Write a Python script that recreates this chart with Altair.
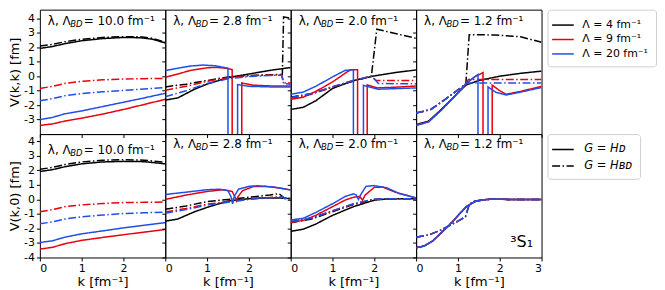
import altair as alt
import pandas as pd

LAMBDA_BD = [10.0, 2.8, 2.0, 1.2]
ROWS = ["kk", "k0"]
LAM_LABELS = ["Λ = 4 fm⁻¹", "Λ = 9 fm⁻¹", "Λ = 20 fm⁻¹"]
G_LABELS = ["G = Hᴅ", "G = Hʙᴅ"]
COLORS = ["#000000", "#e8000b", "#1f4fe8"]
Y_TITLES = ["V(k,k) [fm]", "V(k,0) [fm]"]

# ---------------- V(k,k), lambda_BD = 10.0 ----------------
KK10_L4_D = [(0, 1.92), (0.3, 2.05), (0.6, 2.25), (1.0, 2.45), (1.5, 2.6), (2.0, 2.68), (2.4, 2.66), (2.7, 2.55), (3.0, 2.3)]
KK10_L4_BD = [(0, 2.08), (0.3, 2.2), (0.6, 2.38), (1.0, 2.55), (1.5, 2.68), (2.0, 2.73), (2.4, 2.72), (2.7, 2.62), (3.0, 2.35)]
KK10_L9_D = [(0, -3.4), (0.3, -3.3), (0.6, -3.1), (1.0, -2.9), (1.5, -2.62), (2.0, -2.3), (2.5, -1.95), (3.0, -1.6)]
KK10_L9_BD = [(0, -0.85), (0.3, -0.7), (0.6, -0.5), (1.0, -0.35), (1.5, -0.25), (2.0, -0.2), (2.5, -0.17), (3.0, -0.15)]
KK10_L20_D = [(0, -3.0), (0.3, -2.85), (0.6, -2.6), (1.0, -2.4), (1.5, -2.1), (2.0, -1.8), (2.5, -1.5), (3.0, -1.18)]
KK10_L20_BD = [(0, -1.7), (0.3, -1.55), (0.6, -1.35), (1.0, -1.2), (1.5, -1.08), (2.0, -0.98), (2.5, -0.88), (3.0, -0.78)]

# ---------------- V(k,k), lambda_BD = 2.8 ----------------
KK28_L4_D = [(0, -1.65), (0.3, -1.5), (0.7, -0.9), (1.0, -0.55), (1.5, -0.1), (2.0, 0.15), (2.5, 0.4), (3.0, 0.6)]
KK28_L4_BD = [(0, -0.74), (0.5, -0.55), (1.0, -0.3), (1.5, -0.05), (2.0, 0.05), (2.5, 0.1), (2.8, 0.12), (2.83, 4.1), (3.0, 4.0)]
KK28_L9_D = [(0, -0.07), (0.3, 0.15), (0.6, 0.4), (1.0, 0.58), (1.2, 0.61), (1.4, 0.57), (1.6, 0.46), (1.6, -8), (1.83, -8), (1.83, -0.47), (2.1, -0.62), (2.5, -0.67), (3.0, -0.68)]
KK28_L9_BD = [(0, -0.97), (0.5, -0.7), (1.0, -0.35), (1.5, -0.1), (2.0, 0.02), (2.5, 0.08), (2.78, 0.1), (2.83, -0.35), (2.88, -0.5), (3.0, -0.45)]
KK28_L20_D = [(0, 0.39), (0.3, 0.55), (0.6, 0.7), (0.9, 0.77), (1.2, 0.72), (1.5, 0.55), (1.5, -8), (1.73, -8), (1.73, -0.58), (2.0, -0.7), (2.5, -0.74), (3.0, -0.75)]
KK28_L20_BD = [(0, -1.42), (0.5, -1.0), (1.0, -0.5), (1.5, -0.18), (2.0, -0.02), (2.5, 0.05), (2.78, 0.07), (2.83, -0.5), (3.0, -0.55)]

# ---------------- V(k,k), lambda_BD = 2.0 ----------------
KK20_L4_D = [(0, -2.3), (0.3, -2.15), (0.6, -1.7), (1.0, -0.85), (1.5, -0.3), (2.0, 0.02), (2.5, 0.25), (3.0, 0.43)]
KK20_L4_BD = [(0, -1.45), (0.5, -1.2), (1.0, -0.75), (1.5, -0.35), (1.93, 0.0), (2.06, 3.25), (2.5, 2.95), (3.0, 2.62)]
KK20_L9_D = [(0, -1.6), (0.3, -1.45), (0.6, -1.05), (1.0, -0.4), (1.35, 0.3), (1.45, 0.45), (1.6, 0.45), (1.6, -8), (1.83, -8), (1.83, -0.6), (2.07, -0.81), (2.5, -0.76), (3.0, -0.68)]
KK20_L9_BD = [(0, -1.55), (0.5, -1.25), (1.0, -0.75), (1.5, -0.3), (1.93, 0.0), (2.05, -0.3), (2.3, -0.3), (3.0, -0.29)]
KK20_L20_D = [(0, -1.25), (0.3, -1.1), (0.6, -0.7), (1.0, -0.05), (1.3, 0.4), (1.5, 0.45), (1.5, -8), (1.74, -8), (1.74, -0.63), (2.1, -0.9), (2.5, -0.86), (3.0, -0.81)]
KK20_L20_BD = [(0, -1.48), (0.5, -1.2), (1.0, -0.72), (1.5, -0.3), (1.93, 0.0), (2.1, -0.5), (2.5, -0.52), (3.0, -0.52)]

# ---------------- V(k,k), lambda_BD = 1.2 ----------------
KK12_L4_D = [(0, -3.35), (0.3, -3.1), (0.6, -2.3), (0.85, -1.6), (1.0, -1.15), (1.2, -0.6), (1.5, -0.3), (2.0, 0.0), (2.5, 0.2), (3.0, 0.35)]
KK12_L4_BD = [(0, -2.55), (0.35, -2.3), (0.72, -1.55), (1.0, -0.95), (1.19, -0.52), (1.27, 2.87), (1.9, 2.85), (2.5, 2.72), (3.0, 2.35)]
KK12_L9_D = [(0, -3.4), (0.3, -3.15), (0.6, -2.35), (0.85, -1.6), (1.0, -1.15), (1.2, -0.5), (1.4, -0.05), (1.6, 0.25), (1.6, -8), (1.82, -8), (1.82, -0.62), (2.0, -1.0), (2.15, -1.25), (2.5, -1.05), (3.0, -0.7)]
KK12_L9_BD = [(0, -2.55), (0.35, -2.3), (0.72, -1.55), (1.0, -0.95), (1.19, -0.52), (1.25, -0.22), (3.0, -0.22)]
KK12_L20_D = [(0, -3.4), (0.3, -3.15), (0.6, -2.35), (0.85, -1.6), (1.0, -1.15), (1.2, -0.5), (1.35, -0.15), (1.48, 0.12), (1.48, -8), (1.72, -8), (1.72, -0.74), (1.9, -1.1), (2.15, -1.3), (2.5, -1.1), (3.0, -0.78)]
KK12_L20_BD = [(0, -2.55), (0.35, -2.3), (0.72, -1.55), (1.0, -0.95), (1.19, -0.52), (1.23, -0.47), (3.0, -0.47)]

# ---------------- V(k,0), lambda_BD = 10.0 ----------------
K010_L4_D = [(0, 1.92), (0.3, 2.05), (0.6, 2.25), (1.0, 2.45), (1.5, 2.58), (2.0, 2.62), (2.5, 2.6), (3.0, 2.45)]
K010_L4_BD = [(0, 2.08), (0.3, 2.2), (0.6, 2.4), (1.0, 2.58), (1.5, 2.7), (2.0, 2.73), (2.5, 2.7), (3.0, 2.55)]
K010_L9_D = [(0, -3.42), (0.3, -3.3), (0.6, -3.05), (1.0, -2.82), (1.5, -2.62), (2.0, -2.43), (2.5, -2.25), (3.0, -2.07)]
K010_L9_BD = [(0, -0.85), (0.3, -0.7), (0.6, -0.5), (1.0, -0.38), (1.5, -0.28), (2.0, -0.22), (2.5, -0.2), (3.0, -0.18)]
K010_L20_D = [(0, -2.97), (0.3, -2.85), (0.6, -2.6), (1.0, -2.37), (1.5, -2.17), (2.0, -1.96), (2.5, -1.78), (3.0, -1.6)]
K010_L20_BD = [(0, -1.68), (0.3, -1.55), (0.6, -1.35), (1.0, -1.2), (1.5, -1.08), (2.0, -0.97), (2.5, -0.92), (3.0, -0.88)]

# ---------------- V(k,0), lambda_BD = 2.8 ----------------
K028_L4_D = [(0, -1.5), (0.3, -1.35), (0.7, -0.85), (1.0, -0.55), (1.5, -0.11), (2.0, 0.05), (2.3, 0.1), (2.7, 0.1), (3.0, 0.06)]
K028_L4_BD = [(0, -0.68), (0.5, -0.45), (1.0, -0.15), (1.5, 0.0), (2.0, 0.15), (2.5, 0.3), (2.72, 0.4), (2.85, 0.1), (3.0, 0.05)]
K028_L9_D = [(0, 0.0), (0.5, 0.3), (1.0, 0.55), (1.4, 0.67), (1.6, 0.55), (1.66, 0.2), (1.7, -0.1), (1.74, 0.2), (1.85, 0.6), (2.1, 0.88), (2.4, 0.9), (2.7, 0.8), (3.0, 0.65)]
K028_L9_BD = [(0, -0.87), (0.5, -0.62), (1.0, -0.33), (1.5, -0.15), (2.0, 0.02), (2.5, 0.14), (2.8, 0.2), (2.85, 0.07), (3.0, 0.05)]
K028_L20_D = [(0, 0.34), (0.5, 0.5), (1.0, 0.67), (1.3, 0.7), (1.5, 0.6), (1.57, 0.2), (1.61, -0.3), (1.65, 0.2), (1.75, 0.7), (2.0, 0.9), (2.2, 0.94), (2.6, 0.85), (3.0, 0.65)]
K028_L20_BD = [(0, -0.95), (0.5, -0.7), (1.0, -0.4), (1.5, -0.2), (2.0, 0.0), (2.5, 0.12), (2.8, 0.18), (2.85, 0.06), (3.0, 0.05)]

# ---------------- V(k,0), lambda_BD = 2.0 ----------------
K020_L4_D = [(0, -2.2), (0.3, -2.05), (0.6, -1.7), (1.0, -1.1), (1.5, -0.5), (2.0, -0.05), (2.3, 0.03), (3.0, 0.05)]
K020_L4_BD = [(0, -1.6), (0.5, -1.35), (1.0, -0.85), (1.5, -0.35), (2.0, 0.0), (2.3, 0.05), (3.0, 0.05)]
K020_L9_D = [(0, -1.58), (0.3, -1.45), (0.6, -1.1), (1.0, -0.5), (1.3, -0.05), (1.5, 0.15), (1.65, 0.2), (1.72, -0.05), (1.78, 0.3), (2.0, 0.83), (2.2, 0.85), (2.5, 0.5), (3.0, 0.1)]
K020_L9_BD = [(0, -1.55), (0.5, -1.3), (1.0, -0.8), (1.5, -0.32), (2.0, 0.0), (2.3, 0.05), (3.0, 0.05)]
K020_L20_D = [(0, -1.42), (0.3, -1.3), (0.6, -0.9), (1.0, -0.3), (1.3, 0.2), (1.5, 0.38), (1.57, 0.3), (1.62, 0.0), (1.67, 0.3), (1.8, 0.9), (2.0, 0.95), (2.3, 0.8), (2.6, 0.4), (3.0, 0.1)]
K020_L20_BD = [(0, -1.5), (0.5, -1.27), (1.0, -0.77), (1.5, -0.3), (2.0, 0.02), (2.3, 0.05), (3.0, 0.05)]

# ---------------- V(k,0), lambda_BD = 1.2 ----------------
K012_D = [(0, -3.33), (0.2, -3.2), (0.4, -2.85), (0.6, -2.3), (0.8, -1.75), (1.0, -1.12), (1.2, -0.5), (1.4, -0.15), (1.6, -0.03), (1.8, 0.02), (2.2, 0.0), (3.0, 0.0)]
K012_BD = [(0, -2.6), (0.3, -2.45), (0.6, -2.1), (0.8, -1.8), (1.0, -1.5), (1.18, -1.2), (1.27, -0.35), (1.4, -0.12), (1.6, -0.03), (1.8, 0.02), (2.2, 0.0), (3.0, 0.0)]

SERIES = {
    ("kk", 10.0): [KK10_L4_D, KK10_L4_BD, KK10_L9_D, KK10_L9_BD, KK10_L20_D, KK10_L20_BD],
    ("kk", 2.8): [KK28_L4_D, KK28_L4_BD, KK28_L9_D, KK28_L9_BD, KK28_L20_D, KK28_L20_BD],
    ("kk", 2.0): [KK20_L4_D, KK20_L4_BD, KK20_L9_D, KK20_L9_BD, KK20_L20_D, KK20_L20_BD],
    ("kk", 1.2): [KK12_L4_D, KK12_L4_BD, KK12_L9_D, KK12_L9_BD, KK12_L20_D, KK12_L20_BD],
    ("k0", 10.0): [K010_L4_D, K010_L4_BD, K010_L9_D, K010_L9_BD, K010_L20_D, K010_L20_BD],
    ("k0", 2.8): [K028_L4_D, K028_L4_BD, K028_L9_D, K028_L9_BD, K028_L20_D, K028_L20_BD],
    ("k0", 2.0): [K020_L4_D, K020_L4_BD, K020_L9_D, K020_L9_BD, K020_L20_D, K020_L20_BD],
    ("k0", 1.2): [K012_D, K012_BD, K012_D, K012_BD, K012_D, K012_BD],
}

recs = []
for (rowkey, lbd), lst in SERIES.items():
    for j, pts in enumerate(lst):
        lam = LAM_LABELS[j // 2]
        g = G_LABELS[j % 2]
        for i, (k, v) in enumerate(pts):
            recs.append({"row": rowkey, "lbd": lbd, "Lam": lam, "G": g, "k": k, "V": v, "i": i, "s": j})
df = pd.DataFrame(recs)

WIDTH = 126
HEIGHTS = [125, 124]
YDOM = [[-4, 4.6], [-4, 4.5]]
LABEL_Y = [[11, 11, 11, 11], [16.5, 10, 10, 10]]

color_scale = alt.Scale(domain=LAM_LABELS, range=COLORS)
dash_scale = alt.Scale(domain=G_LABELS, range=[[1, 0], [8, 2.5, 1.5, 2.5]])
LINE_SYMBOL = "M-1.45,0L1.45,0"

panels = []
for r, rowkey in enumerate(ROWS):
    for c, lbd in enumerate(LAMBDA_BD):
        sub = df[(df.row == rowkey) & (df.lbd == lbd)]
        xaxis = alt.Axis(values=[0, 1, 2, 3] if c == 3 else [0, 1, 2], labels=(r == 1), grid=False,
                         domain=False, tickSize=3.5, tickColor="black", labelFontSize=11,
                         labelColor="black", titleFontSize=13, titleFontWeight="normal",
                         labelPadding=2, titlePadding=2, labelExpr="'' + datum.value")
        yaxis = alt.Axis(values=list(range(-3, 5)) if r == 0 else list(range(-4, 5)), labels=(c == 0),
                         grid=False, domain=False, tickSize=3.5, tickColor="black", labelFontSize=11,
                         labelColor="black", titleFontSize=13, titleFontWeight="normal",
                         labelPadding=2, titlePadding=2, labelExpr="'' + datum.value")
        if r == 1:
            xenc = alt.X("k:Q", scale=alt.Scale(domain=[0, 3], nice=False, zero=False), axis=xaxis, title="k [fm⁻¹]")
        else:
            xenc = alt.X("k:Q", scale=alt.Scale(domain=[0, 3], nice=False, zero=False), axis=xaxis, title=None)
        if c == 0:
            yenc = alt.Y("V:Q", scale=alt.Scale(domain=YDOM[r], nice=False, zero=False), axis=yaxis, title=Y_TITLES[r])
        else:
            yenc = alt.Y("V:Q", scale=alt.Scale(domain=YDOM[r], nice=False, zero=False), axis=yaxis, title=None)

        if c == 3 and r == 0:
            cenc = alt.Color("Lam:N", scale=color_scale, legend=alt.Legend(title=None, orient="right", offset=6,
                             symbolType=LINE_SYMBOL, symbolSize=225, symbolStrokeWidth=1.5, labelFontSize=11,
                             labelColor="black", labelOffset=11, rowPadding=0.5, padding=7,
                             strokeColor="#d0d0d0", fillColor="white", cornerRadius=3))
        else:
            cenc = alt.Color("Lam:N", scale=color_scale, legend=None)
        if c == 3 and r == 1:
            denc = alt.StrokeDash("G:N", scale=dash_scale, legend=alt.Legend(title=None, orient="right", offset=6,
                                  symbolType=LINE_SYMBOL, symbolSize=225, symbolStrokeWidth=1.5,
                                  symbolStrokeColor="black", labelFontSize=11.5, labelFontStyle="italic",
                                  labelColor="black", labelOffset=13, rowPadding=2.5, padding=7,
                                  strokeColor="#d0d0d0", fillColor="white", cornerRadius=3))
        else:
            denc = alt.StrokeDash("G:N", scale=dash_scale, legend=None)

        lines = alt.Chart(sub).mark_line(strokeWidth=1.5, clip=True).encode(
            x=xenc, y=yenc, color=cenc, strokeDash=denc,
            detail="s:N", order=alt.Order("i:Q"))

        lab = pd.DataFrame({"t1": ["λ, Λ"], "t2": ["BD"], "t3": [f"= {lbd:.1f} fm⁻¹"]})
        ly = LABEL_Y[r][c]
        base_t = alt.Chart(lab)
        t1 = base_t.mark_text(align="left", baseline="middle", fontSize=12, color="black").encode(
            text="t1:N", x=alt.value(8), y=alt.value(ly))
        t2 = base_t.mark_text(align="left", baseline="middle", fontSize=8.5, fontStyle="italic", color="black").encode(
            text="t2:N", x=alt.value(30.5), y=alt.value(ly + 3))
        t3 = base_t.mark_text(align="left", baseline="middle", fontSize=12, color="black").encode(
            text="t3:N", x=alt.value(44), y=alt.value(ly))
        layers = [lines, t1, t2, t3]
        if r == 1 and c == 3:
            wave = pd.DataFrame({"w": ["³S₁"]})
            layers.append(alt.Chart(wave).mark_text(align="center", baseline="middle", fontSize=16, color="black").encode(
                text="w:N", x=alt.value(106), y=alt.value(108)))
        panels.append(alt.layer(*layers).properties(width=WIDTH, height=HEIGHTS[r]))

chart = alt.concat(*panels, columns=4, spacing=0, bounds="flush").resolve_scale(
    x="independent", y="independent", color="independent", strokeDash="independent"
).properties(padding={"left": 0, "top": 0, "right": 0, "bottom": 0}).configure(
    font="DejaVu Sans"
).configure_view(stroke="black", strokeWidth=1)

chart.save("out.html", embed_options={"renderer": "svg", "actions": False})
